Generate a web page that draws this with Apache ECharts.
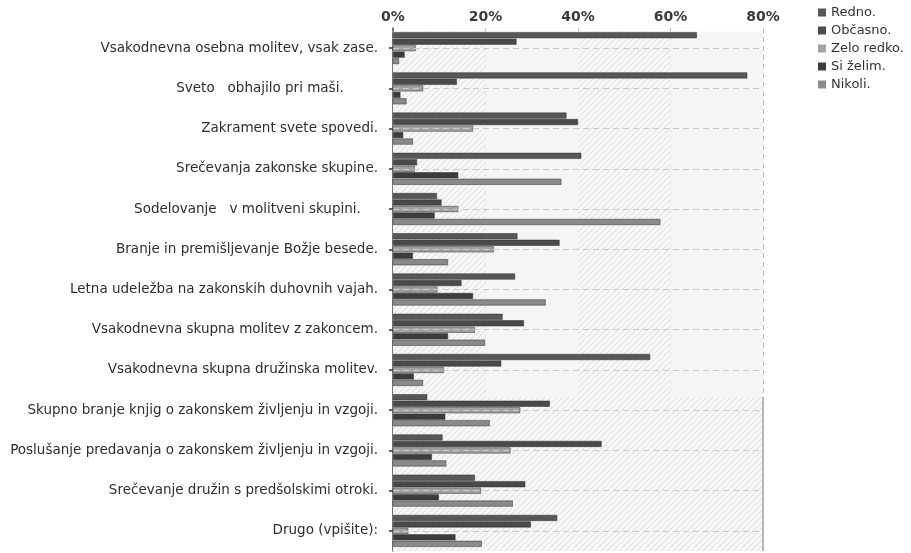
<!DOCTYPE html>
<html>
<head>
<meta charset="utf-8">
<script src="https://cdn.jsdelivr.net/npm/echarts@6/dist/echarts.min.js"></script>
<style>
  html, body { margin: 0; padding: 0; background: #ffffff; }
  #chart { width: 911px; height: 553px; }
</style>
</head>
<body>
<div id="chart"></div>
<script>
// Survey answers: how often each spiritual activity is practised (share of respondents, %)
const categories = [
  'Vsakodnevna osebna molitev, vsak zase.',
  'Sveto   obhajilo pri maši.        ',
  'Zakrament svete spovedi.',
  'Srečevanja zakonske skupine.',
  'Sodelovanje   v molitveni skupini.    ',
  'Branje in premišljevanje Božje besede.',
  'Letna udeležba na zakonskih duhovnih vajah.',
  'Vsakodnevna skupna molitev z zakoncem.',
  'Vsakodnevna skupna družinska molitev.',
  'Skupno branje knjig o zakonskem življenju in vzgoji.',
  'Poslušanje predavanja o zakonskem življenju in vzgoji.',
  'Srečevanje družin s predšolskimi otroki.',
  'Drugo (vpišite):'
];

const seriesNames = ['Redno.', 'Občasno.', 'Zelo redko.', 'Si želim.', 'Nikoli.'];

const redno     = [65.7, 76.6, 37.5, 40.7,  9.5, 26.9, 26.4, 23.7, 55.6,  7.4, 10.7, 17.7, 35.5];
const obcasno   = [26.7, 13.8, 40.0,  5.2, 10.5, 36.0, 14.8, 28.3, 23.4, 33.9, 45.1, 28.6, 29.8];
const zeloRedko = [ 4.9,  6.5, 17.3,  4.7, 14.1, 21.8,  9.6, 17.7, 11.0, 27.5, 25.4, 19.0,  3.3];
const siZelim   = [ 2.5,  1.6,  2.2, 14.1,  9.0,  4.3, 17.3, 11.9,  4.5, 11.3,  8.4,  9.9, 13.5];
const nikoli    = [ 1.3,  2.9,  4.3, 36.4, 57.8, 11.9, 33.0, 19.9,  6.5, 20.9, 11.5, 25.9, 19.2];

const xTicks = [0, 20, 40, 60, 80];

const seriesValues = [redno, obcasno, zeloRedko, siZelim, nikoli];
const seriesColors = ['#575757', '#4a4a4a', '#a2a2a2', '#3c3c3c', '#8a8a8a'];

// Diagonal hatch used for the shaded plot background
function makeHatch() {
  const c = document.createElement('canvas');
  c.width = 6; c.height = 6;
  const g = c.getContext('2d');
  g.fillStyle = '#f7f7f7';
  g.fillRect(0, 0, 6, 6);
  g.strokeStyle = '#dcdcdc';
  g.lineWidth = 1;
  g.beginPath();
  g.moveTo(0, 6); g.lineTo(6, 0);
  g.moveTo(-1, 1); g.lineTo(1, -1);
  g.moveTo(5, 7); g.lineTo(7, 5);
  g.stroke();
  return c;
}
const hatch = { image: makeHatch(), repeat: 'repeat' };
const flat = '#f5f5f5';

// Background bands on a hidden row axis (0 = top of first row, 13 = bottom of last)
const bandSplit = 9.17;
const bandTop = 0.09;
const backgroundAreas = [];
[[0, 20, hatch], [20, 40, flat], [40, 60, hatch], [60, 80, flat]].forEach(([a, b, fill]) => {
  backgroundAreas.push([{ xAxis: a, yAxis: bandTop, itemStyle: { color: fill } }, { xAxis: b, yAxis: bandSplit }]);
});
backgroundAreas.push([{ xAxis: 0, yAxis: bandSplit, itemStyle: { color: hatch } }, { xAxis: 80, yAxis: 13 }]);

// Dashed guide through the middle of each row
const rowGuides = categories.map((c, i) => ({ yAxis: i + 0.5 }));
// Solid right edge of the lower shaded block
const lowerEdge = [{ xAxis: 80, yAxis: bandSplit, lineStyle: { color: '#b4b4b4', type: 'solid', width: 2 } }, { xAxis: 80, yAxis: 13 }];

const chart = echarts.init(document.getElementById('chart'), null, { renderer: 'canvas' });

const barSeries = seriesNames.map((name, i) => ({
  name: name,
  type: 'bar',
  yAxisIndex: 0,
  data: seriesValues[i],
  barWidth: 6,
  barGap: '8%',
  itemStyle: { color: seriesColors[i], borderColor: '#2e2e2e', borderWidth: 0.5 },
  z: 3
}));

chart.setOption({
  backgroundColor: '#ffffff',
  animation: false,
  textStyle: { fontFamily: 'DejaVu Sans' },
  grid: { left: 393, right: 148, top: 28, bottom: 2, containLabel: false },
  legend: {
    data: seriesNames,
    orient: 'vertical',
    left: 813,
    top: 1,
    icon: 'rect',
    itemWidth: 8,
    itemHeight: 8,
    itemGap: 5,
    itemStyle: { borderWidth: 0 },
    textStyle: { fontSize: 13, color: '#333333', fontFamily: 'DejaVu Sans' }
  },
  xAxis: {
    type: 'value',
    position: 'top',
    offset: -4,
    min: 0,
    max: 80,
    interval: 20,
    axisLine: { show: true, lineStyle: { color: '#b0b0b0', width: 1 } },
    axisTick: { show: false },
    axisLabel: {
      margin: 8,
      fontSize: 14,
      fontWeight: 'bold',
      color: '#3a3a3a',
      fontFamily: 'DejaVu Sans',
      formatter: v => (xTicks.indexOf(v) >= 0 ? v + '%' : '')
    },
    splitLine: { show: true, lineStyle: { color: '#bdbdbd', type: [5, 4], width: 1 } }
  },
  yAxis: [
    {
      type: 'category',
      data: categories,
      inverse: true,
      axisLine: { show: true, lineStyle: { color: '#4a4a4a', width: 1.5 } },
      axisTick: { show: true, alignWithLabel: true, length: 4, lineStyle: { color: '#333333', width: 1.5 } },
      axisLabel: { margin: 15, fontSize: 13.5, color: '#2e2e2e', fontFamily: 'DejaVu Sans' },
      splitLine: { show: false }
    },
    {
      type: 'value',
      min: 0,
      max: 13,
      inverse: true,
      show: false
    }
  ],
  series: [
    {
      name: 'plotBackground',
      type: 'line',
      yAxisIndex: 1,
      data: [],
      silent: true,
      z: 0,
      markArea: { silent: true, data: backgroundAreas },
      markLine: {
        silent: true,
        symbol: ['none', 'none'],
        label: { show: false },
        lineStyle: { color: '#c8c8c8', type: [6, 4], width: 1 },
        data: rowGuides.concat([lowerEdge])
      }
    }
  ].concat(barSeries)
});
</script>
</body>
</html>
